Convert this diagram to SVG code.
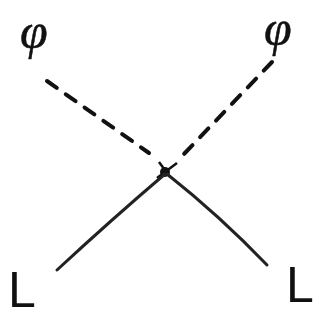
<svg xmlns="http://www.w3.org/2000/svg" width="326" height="329" viewBox="0 0 326 329">
<style>
.lbl{font-family:"Liberation Serif","Times New Roman",serif;font-style:italic;fill:#111;stroke:#111;stroke-width:0.5}
.L{font-family:"Liberation Sans",Arial,sans-serif;font-size:50px;fill:#111}
.dash{stroke:#111;stroke-width:4;stroke-dasharray:12 11;stroke-linecap:round;fill:none}
.solid{stroke:#222;stroke-width:3;stroke-linecap:round;fill:none}
</style>
<rect width="326" height="329" fill="#fff"/>
<g id="phi-left"><text class="lbl" x="20" y="48" font-size="50">φ</text></g>
<g id="phi-right"><text class="lbl" x="264" y="45" font-size="50">φ</text></g>
<g id="L-left"><text class="L" x="8" y="307">L</text></g>
<g id="L-right"><text class="L" x="286" y="302">L</text></g>
<g id="vertex">
<circle cx="165" cy="172" r="5" fill="#111"/>
<path d="M159 162 L170 177 M157 178 L177 163" stroke="#111" stroke-width="2.5" fill="none"/>
</g>
<g id="connectors">
<path class="dash" d="M47 81 L149 153"/>
<path class="dash" d="M272 62 L183 155"/>
<path class="solid" d="M165 174 Q111 220 57 270"/>
<path class="solid" d="M167 174 Q220 216 267 265"/>
</g>
</svg>
